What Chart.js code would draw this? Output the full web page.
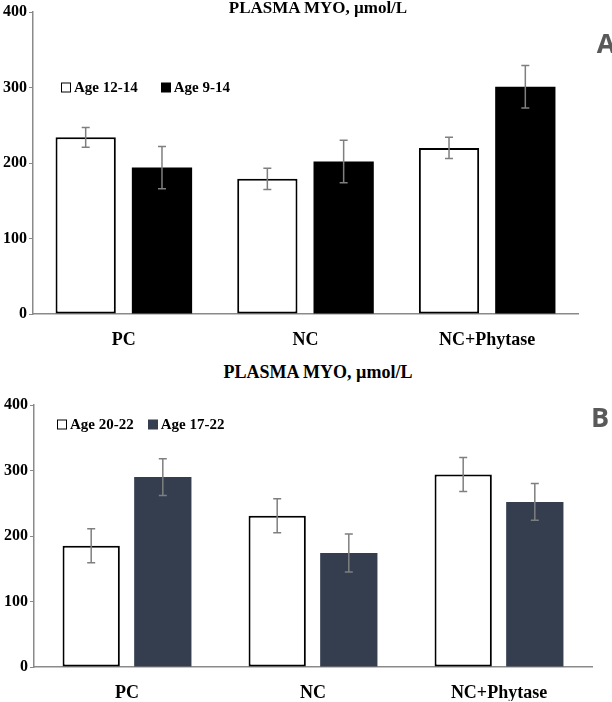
<!DOCTYPE html>
<html>
<head>
<meta charset="utf-8">
<script src="https://cdn.jsdelivr.net/npm/chart.js@4.4.1/dist/chart.umd.min.js"></script>
<style>
  html, body { margin: 0; padding: 0; background: #fff; }
  #page { position: relative; width: 612px; height: 702px; overflow: hidden; background: #fff; }
  canvas { position: absolute; left: 0; }
  .title, .legend, .panel { position: absolute; white-space: nowrap; }
  .title { font: bold 17px 'Liberation Serif', serif; color: #000; transform: translate(-50%, -50%); }
  .legend { font: bold 15px 'Liberation Serif', serif; color: #000; display: flex; align-items: center; transform: translateY(-50%); }
  .legend .item { display: flex; align-items: center; }
  .legend .box { width: 10px; height: 10px; box-sizing: border-box; margin-right: 3px; }
  .panel { font: bold 27px 'Open Sans', sans-serif; color: #595959; transform: translate(-50%, -50%); }
</style>
</head>
<body>
<div id="page">
  <canvas id="chartA" width="612" height="360" style="top:0"></canvas>
  <canvas id="chartB" width="612" height="317" style="top:385px"></canvas>

  <div class="title" style="left:318px; top:8px">PLASMA MYO, µmol/L</div>
  <div class="title" style="left:318px; top:372px; font-size:18px">PLASMA MYO, µmol/L</div>
  <div class="panel" style="left:606px; top:42px">A</div>
  <div class="panel" style="left:600px; top:416px">B</div>

  <div class="legend" id="legendA" style="left:61px; top:87px"></div>
  <div class="legend" id="legendB" style="left:57px; top:424px"></div>
</div>
<script>
const categories = ['PC', 'NC', 'NC+Phytase'];
const yTicks = [0, 100, 200, 300, 400];

// panel A
const seriesALabels = ['Age 12-14', 'Age 9-14'];
const seriesA1 = [234, 179, 220];
const seriesA1Err = [13, 14, 14];
const seriesA2 = [194, 202, 301];
const seriesA2Err = [28, 28, 28];

// panel B
const seriesBLabels = ['Age 20-22', 'Age 17-22'];
const seriesB1 = [185, 231, 294];
const seriesB1Err = [26, 26, 26];
const seriesB2 = [290, 174, 252];
const seriesB2Err = [28, 29, 28];

const serif = "'Liberation Serif', 'Times New Roman', serif";
const axisGray = '#8a8a8a';
const slate = '#343e4f';

const errorBars = {
  id: 'errorBars',
  afterDatasetsDraw(chart) {
    const { ctx } = chart;
    const y = chart.scales.y;
    ctx.save();
    ctx.strokeStyle = '#7f7f7f';
    ctx.lineWidth = 1.5;
    chart.data.datasets.forEach((ds, i) => {
      const meta = chart.getDatasetMeta(i);
      meta.data.forEach((bar, j) => {
        const value = ds.data[j];
        const err = ds.errors[j];
        const top = y.getPixelForValue(value + err);
        const bottom = y.getPixelForValue(value - err);
        const x = bar.x;
        ctx.beginPath();
        ctx.moveTo(x, top);
        ctx.lineTo(x, bottom);
        ctx.moveTo(x - 4, top);
        ctx.lineTo(x + 4, top);
        ctx.moveTo(x - 4, bottom);
        ctx.lineTo(x + 4, bottom);
        ctx.stroke();
      });
    });
    ctx.restore();
  }
};

function makeChart(canvasId, sets, opts) {
  const ctx = document.getElementById(canvasId).getContext('2d');
  return new Chart(ctx, {
    type: 'bar',
    data: {
      labels: categories,
      datasets: sets.map(s => ({
        label: s.label,
        data: s.data,
        errors: s.errors,
        backgroundColor: s.fill,
        borderColor: '#000',
        borderWidth: s.border,
        borderSkipped: false,
        categoryPercentage: opts.catPct,
        barPercentage: opts.barPct
      }))
    },
    options: {
      responsive: false,
      animation: false,
      devicePixelRatio: 1,
      layout: { padding: opts.padding },
      plugins: {
        legend: { display: false },
        tooltip: { enabled: false }
      },
      scales: {
        x: {
          afterFit(scale) { scale.height = opts.xHeight; },
          grid: { display: true, drawOnChartArea: false, drawTicks: false },
          border: { display: true, color: axisGray, width: 1.5 },
          ticks: {
            color: '#000',
            padding: 16,
            font: { family: serif, size: 18, weight: 'bold' }
          }
        },
        y: {
          min: 0,
          max: 400,
          afterFit(scale) { scale.width = opts.yWidth; },
          afterBuildTicks(scale) { scale.ticks = yTicks.map(v => ({ value: v })); },
          grid: { drawOnChartArea: false, drawTicks: true, tickLength: 4, color: axisGray, lineWidth: 1 },
          border: { display: true, color: axisGray, width: 1.5 },
          ticks: {
            color: '#000',
            padding: 2,
            font: { family: serif, size: 16, weight: 'bold' }
          }
        }
      }
    },
    plugins: [errorBars]
  });
}

function buildLegend(elId, labels, fills) {
  const el = document.getElementById(elId);
  el.innerHTML = labels.map((label, i) => {
    const style = fills[i] === '#fff'
      ? 'background:#fff;border:1.5px solid #000'
      : `background:${fills[i]}`;
    const gap = i === 0 ? `margin-right:${elId === 'legendA' ? 23 : 14}px` : '';
    return `<span class="item" style="${gap}"><span class="box" style="${style}"></span>${label}</span>`;
  }).join('');
}

makeChart('chartA', [
  { label: seriesALabels[0], data: seriesA1, errors: seriesA1Err, fill: '#fff', border: 2 },
  { label: seriesALabels[1], data: seriesA2, errors: seriesA2Err, fill: '#000', border: 0 }
], {
  catPct: 0.84,
  barPct: 0.79,
  padding: { top: 12, right: 34, bottom: 6, left: 0 },
  xHeight: 40,
  yWidth: 33
});

makeChart('chartB', [
  { label: seriesBLabels[0], data: seriesB1, errors: seriesB1Err, fill: '#fff', border: 2 },
  { label: seriesBLabels[1], data: seriesB2, errors: seriesB2Err, fill: slate, border: 0 }
], {
  catPct: 0.77,
  barPct: 0.80,
  padding: { top: 20, right: 20, bottom: 1, left: 0 },
  xHeight: 34,
  yWidth: 34
});

buildLegend('legendA', seriesALabels, ['#fff', '#000']);
buildLegend('legendB', seriesBLabels, ['#fff', slate]);
</script>
</body>
</html>
